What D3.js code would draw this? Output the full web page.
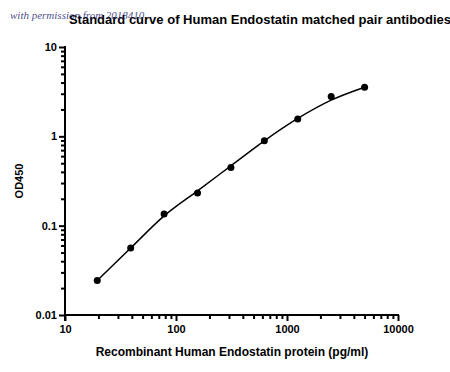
<!DOCTYPE html>
<html>
<head>
<meta charset="utf-8">
<script src="https://cdn.jsdelivr.net/npm/d3@7"></script>
<style>
  body { margin: 0; background: #fff; }
  svg { display: block; font-family: "Liberation Sans", Arial, sans-serif; }
</style>
</head>
<body>
<svg id="chart" width="450" height="372"></svg>
<script>
// concentrations (pg/ml) and measured OD450
const conc = [19.53, 39.06, 78.125, 156.25, 312.5, 625, 1250, 2500, 5000]
const od = [0.0243, 0.0563, 0.135, 0.232, 0.449, 0.891, 1.56, 2.79, 3.55]
// fitted curve at the same concentrations
const fitOd = [0.0243, 0.0562, 0.1288, 0.2455, 0.4677, 0.891, 1.585, 2.541, 3.548]

const xTicks = [10, 100, 1000, 10000]
const yTicks = [0.01, 0.1, 1, 10]

const margin = {left: 65, right: 52, top: 47, bottom: 57}
const width = 450, height = 372

const svg = d3.select("#chart")

let x = d3.scaleLog().domain([10, 10000]).range([margin.left, width - margin.right])
let y = d3.scaleLog().domain([0.01, 10]).range([height - margin.bottom, margin.top])

// minor ticks: 2..9 of every decade
const minorX = d3.range(1, 4).flatMap(e => d3.range(2, 10).map(m => m * Math.pow(10, e)))
const minorY = d3.range(-2, 1).flatMap(e => d3.range(2, 10).map(m => m * Math.pow(10, e)))

// x axis
const gx = svg.append("g").attr("transform", `translate(0,${y(0.01)})`)
gx.call(d3.axisBottom(x).tickValues(minorX).tickSize(4).tickFormat(""))
  .call(g => g.select(".domain").remove())
gx.append("g").call(d3.axisBottom(x).tickValues(xTicks).tickSize(6).tickSizeOuter(0)
    .tickFormat(d3.format("d")).tickPadding(4))
  .call(g => g.select(".domain").attr("stroke-width", 2).attr("d", `M${x(10) - 1},0H${x(10000) + 1}`))
gx.selectAll(".tick line").attr("stroke-width", 2).attr("stroke", "#000")
gx.selectAll("text").attr("font-size", 11).attr("font-weight", "bold").attr("fill", "#000")

// y axis
const gy = svg.append("g").attr("transform", `translate(${x(10)},0)`)
gy.call(d3.axisLeft(y).tickValues(minorY).tickSize(4).tickFormat(""))
  .call(g => g.select(".domain").remove())
gy.append("g").call(d3.axisLeft(y).tickValues(yTicks).tickSize(6).tickSizeOuter(0)
    .tickFormat(d => d >= 1 ? d3.format("d")(d) : String(d)).tickPadding(2))
  .call(g => g.select(".domain").attr("stroke-width", 2).attr("d", `M0,${y(10) - 1}V${y(0.01) + 6}`))
gy.selectAll(".tick line").attr("stroke-width", 2).attr("stroke", "#000")
gy.selectAll("text").attr("font-size", 11).attr("font-weight", "bold").attr("fill", "#000")

// fitted curve
svg.append("path")
    .datum(fitOd)
    .attr("fill", "none")
    .attr("stroke", "#000")
    .attr("stroke-width", 1.5)
    .attr("d", d3.line()
      .x((d, i) => x(conc[i]))
      .y(d => y(d))
      .curve(d3.curveMonotoneX))

// data points
svg.append("g").selectAll("circle")
  .data(od)
  .join("circle")
    .attr("cx", (d, i) => x(conc[i]))
    .attr("cy", d => y(d))
    .attr("r", 3.5)
    .attr("fill", "#000")

// axis titles
svg.append("text")
    .attr("x", 232)
    .attr("y", 356)
    .attr("text-anchor", "middle")
    .attr("font-size", 12)
    .attr("font-weight", "bold")
    .text("Recombinant Human Endostatin protein (pg/ml)")

svg.append("text")
    .attr("transform", `translate(23,${(y(10) + y(0.01)) / 2}) rotate(-90)`)
    .attr("text-anchor", "middle")
    .attr("font-size", 11)
    .attr("font-weight", "bold")
    .text("OD450")

// title
svg.append("text")
    .attr("x", 260)
    .attr("y", 24)
    .attr("text-anchor", "middle")
    .attr("font-size", 13)
    .attr("font-weight", "bold")
    .text("Standard curve of Human Endostatin matched pair antibodies")

// watermark
svg.append("text")
    .attr("x", 10)
    .attr("y", 19)
    .attr("font-family", "'Liberation Serif', serif")
    .attr("font-style", "italic")
    .attr("font-size", 11)
    .attr("fill", "#2a2a70")
    .attr("fill-opacity", 0.85)
    .text("with permission from 2018410")
</script>
</body>
</html>
